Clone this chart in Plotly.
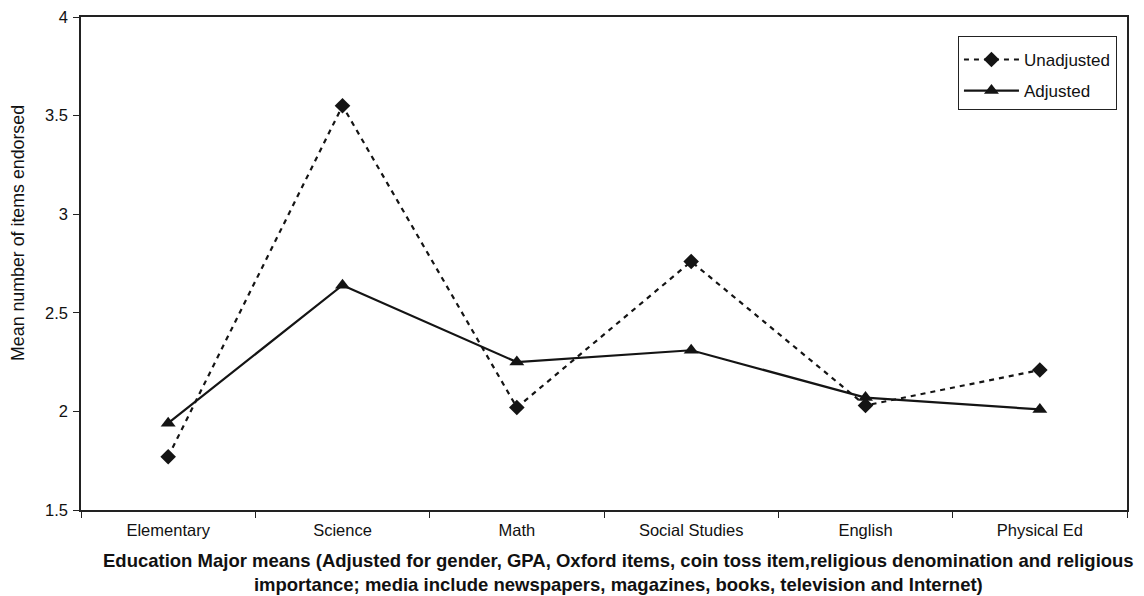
import plotly.graph_objects as go

categories = ["Elementary", "Science", "Math", "Social Studies", "English", "Physical Ed"]
unadjusted = [1.77, 3.55, 2.02, 2.76, 2.03, 2.21]
adjusted = [1.94, 2.64, 2.25, 2.31, 2.07, 2.01]
y_ticks = [1.5, 2, 2.5, 3, 3.5, 4]
y_tick_labels = ["1.5", "2", "2.5", "3", "3.5", "4"]

FONT = "Liberation Sans, Arial, sans-serif"

fig = go.Figure()
fig.add_trace(go.Scatter(
    x=categories, y=unadjusted, name="Unadjusted", mode="lines+markers",
    legendgroup="a",
    line=dict(color="#141414", width=2.2, dash="5px,5px"),
    marker=dict(symbol="diamond", size=12, color="#141414"),
))
fig.add_trace(go.Scatter(
    x=categories, y=adjusted, name="Adjusted", mode="lines+markers",
    legendgroup="b",
    line=dict(color="#141414", width=2.2),
    marker=dict(symbol="triangle-up", size=13, color="#141414"),
))

fig.update_layout(
    width=1144, height=596,
    margin=dict(l=81, r=17, t=17, b=86),
    paper_bgcolor="white", plot_bgcolor="white",
    font=dict(family=FONT, size=16, color="#111111"),
    showlegend=True,
    legend=dict(
        x=0.9904, xanchor="right", y=0.962, yanchor="top",
        bordercolor="#222222", borderwidth=1, bgcolor="white",
        font=dict(size=17), tracegroupgap=6, itemwidth=55,
        title=dict(text=" ", font=dict(size=4)),
    ),
    xaxis=dict(
        type="category", range=[-0.5, 5.5], automargin=False,
        showline=True, linecolor="#222222", linewidth=1.5, mirror=True,
        ticks="outside", tickson="boundaries", ticklen=6, tickcolor="#222222",
        showgrid=False, zeroline=False, ticklabelstandoff=4,
        tickfont=dict(size=16.5),
    ),
    yaxis=dict(
        range=[1.5, 4], tickvals=y_ticks, ticktext=y_tick_labels, automargin=False,
        showline=True, linecolor="#222222", linewidth=1.5, mirror=True,
        ticks="outside", ticklen=6, tickcolor="#222222",
        showgrid=False, zeroline=False, ticklabelstandoff=2,
        tickfont=dict(size=16.5),
    ),
    annotations=[
        dict(
            text="Mean number of items endorsed", textangle=-90,
            xref="paper", yref="paper", x=-0.0602, y=0.562,
            xanchor="center", yanchor="middle", showarrow=False,
            font=dict(size=17.8),
        ),
        dict(
            text="<b>Education Major means (Adjusted for gender, GPA, Oxford items, coin toss item,religious denomination and religious</b><br><b>importance; media include newspapers, magazines, books, television and Internet)</b>",
            xref="paper", yref="paper", x=0.514, y=-0.077,
            xanchor="center", yanchor="top", showarrow=False,
            font=dict(size=18.5), align="center",
        ),
    ],
)

fig.write_html(
    "out.html",
    config={"displayModeBar": False},
    post_script="document.body.style.margin='0';document.body.style.overflow='hidden';",
)
